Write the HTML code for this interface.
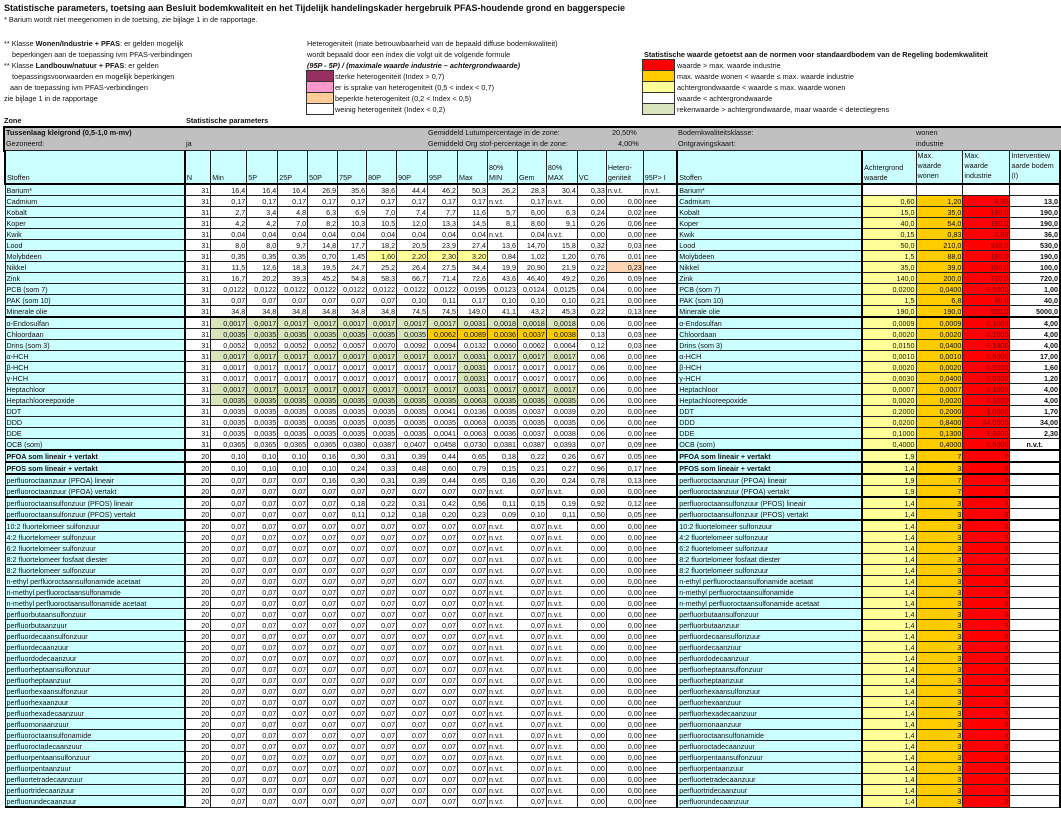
<!DOCTYPE html>
<html><head><meta charset="utf-8">
<style>
body{margin:0;width:1061px;height:814px;background:#fff;position:relative;overflow:hidden;font-family:"Liberation Sans",sans-serif;color:#111}
.a{position:absolute;white-space:nowrap;font-size:7.3px;line-height:9px}
.sw{position:absolute;border:1px solid #333;box-sizing:border-box}
table{position:absolute;left:4px;top:150px;border-collapse:collapse;table-layout:fixed;font-size:7.2px}
td{border:1px solid #222;padding:0 1px;height:10px;line-height:9px;text-align:right;white-space:nowrap;overflow:hidden;background:#fff}
td.c{background:#ccffff;text-align:left}
tr.h td{background:#ccffff;text-align:left;vertical-align:bottom;height:32px;line-height:10px}
tr.h td.tp{vertical-align:top}
td.k{border-left:2px solid #000}
tr.t td{border-top:2px solid #000}
.g{background:#d8e4bc!important}.y{background:#ffff99!important}.o{background:#ffcc00!important}.r{background:#ff0000!important;color:#600}.p{background:#fcd5b4!important}
.b{font-weight:bold}.l{text-align:left!important}.m{text-align:center!important}
td.e{border-right:2px solid #000}
</style></head><body>
<div class="a" style="left:4px;top:3px;font-size:9px;line-height:11px;font-weight:bold">Statistische parameters, toetsing aan Besluit bodemkwaliteit en het Tijdelijk handelingskader hergebruik PFAS-houdende grond en baggerspecie</div>
<div class="a" style="left:4px;top:15px">* Barium wordt niet meegenomen in de toetsing, zie bijlage 1 in de rapportage.</div>
<div class="a" style="left:4px;top:39px">** Klasse <b>Wonen/Industrie + PFAS</b>: er gelden mogelijk</div>
<div class="a" style="left:12px;top:50px">beperkingen aan de toepassing ivm PFAS-verbindingen</div>
<div class="a" style="left:4px;top:61px">** Klasse <b>Landbouw/natuur + PFAS</b>: er gelden</div>
<div class="a" style="left:12px;top:72px">toepassingsvoorwaarden en mogelijk beperkingen</div>
<div class="a" style="left:10px;top:83px">aan de toepassing ivm PFAS-verbindingen</div>
<div class="a" style="left:4px;top:94px">zie bijlage 1 in de rapportage</div>
<div class="a" style="left:307px;top:39px">Heterogeniteit (mate betrouwbaarheid van de bepaald diffuse bodemkwaliteit)</div>
<div class="a" style="left:307px;top:50px">wordt bepaald door een index die volgt uit de volgende formule</div>
<div class="a" style="left:307px;top:61px;font-style:italic;font-weight:bold">(95P - 5P) / (maximale waarde industrie – achtergrondwaarde)</div>
<div class="sw" style="left:306px;top:70px;width:28px;height:12px;background:#963060"></div>
<div class="sw" style="left:306px;top:81px;width:28px;height:12px;background:#ff99cc"></div>
<div class="sw" style="left:306px;top:92px;width:28px;height:12px;background:#ffcc99"></div>
<div class="sw" style="left:306px;top:103px;width:28px;height:12px;background:#fff"></div>
<div class="a" style="left:335px;top:72px">sterke heterogeniteit (Index &gt; 0,7)</div>
<div class="a" style="left:335px;top:83px">er is sprake van heterogeniteit (0,5 &lt; index &lt; 0,7)</div>
<div class="a" style="left:335px;top:94px">beperkte heterogeniteit (0,2 &lt; Index &lt; 0,5)</div>
<div class="a" style="left:335px;top:105px">weinig heterogeniteit (Index &lt; 0,2)</div>
<div class="a" style="left:644px;top:50px;font-weight:bold">Statistische waarde getoetst aan de normen voor standaardbodem van de Regeling bodemkwaliteit</div>
<div class="sw" style="left:642px;top:59px;width:33px;height:12px;background:#ff0000"></div>
<div class="sw" style="left:642px;top:70px;width:33px;height:12px;background:#ffcc00"></div>
<div class="sw" style="left:642px;top:81px;width:33px;height:12px;background:#ffff99"></div>
<div class="sw" style="left:642px;top:92px;width:33px;height:12px;background:#fff"></div>
<div class="sw" style="left:642px;top:103px;width:33px;height:12px;background:#d8e4bc"></div>
<div class="a" style="left:677px;top:61px">waarde &gt; max. waarde industrie</div>
<div class="a" style="left:677px;top:72px">max. waarde wonen &lt; waarde ≤ max. waarde industrie</div>
<div class="a" style="left:677px;top:83px">achtergrondwaarde &lt; waarde ≤ max. waarde wonen</div>
<div class="a" style="left:677px;top:94px">waarde &lt; achtergrondwaarde</div>
<div class="a" style="left:677px;top:105px">rekenwaarde &gt; achtergrondwaarde, maar waarde &lt; detectiegrens</div>
<div class="a" style="left:4px;top:116px;font-weight:bold">Zone</div>
<div class="a" style="left:186px;top:116px;font-weight:bold">Statistische parameters</div>
<div style="position:absolute;left:3px;top:126px;width:1056px;height:24px;background:#c0c0c0;border:1px solid #000;border-width:2px 2px 0 2px"></div>
<div class="a" style="left:6px;top:128px;font-weight:bold">Tussenlaag kleigrond (0,5-1,0 m-mv)</div>
<div class="a" style="left:6px;top:139px">Gezoneerd:</div>
<div class="a" style="left:186px;top:139px">ja</div>
<div class="a" style="left:428px;top:128px">Gemiddeld Lutumpercentage in de zone:</div>
<div class="a" style="left:428px;top:139px">Gemiddeld Org stof-percentage in de zone:</div>
<div class="a" style="left:612px;top:128px">20,50%</div>
<div class="a" style="left:618px;top:139px">4,00%</div>
<div class="a" style="left:678px;top:128px">Bodemkwaliteitsklasse:</div>
<div class="a" style="left:678px;top:139px">Ontgravingskaart:</div>
<div class="a" style="left:916px;top:128px">wonen</div>
<div class="a" style="left:916px;top:139px">industrie</div>

<table>
<colgroup><col style="width:180px"><col style="width:26px"><col style="width:36px"><col style="width:31px"><col style="width:30px"><col style="width:30px"><col style="width:29px"><col style="width:30px"><col style="width:31px"><col style="width:30px"><col style="width:30px"><col style="width:30px"><col style="width:29px"><col style="width:31px"><col style="width:29px"><col style="width:37px"><col style="width:34px"><col style="width:185px"><col style="width:54px"><col style="width:47px"><col style="width:47px"><col style="width:50px"></colgroup>
<tr class="h"><td style="border-left:2px solid #000">Stoffen</td><td class="k">N</td><td>Min</td><td>5P</td><td>25P</td><td>50P</td><td>75P</td><td>80P</td><td>90P</td><td>95P</td><td>Max</td><td>80%<br>MIN</td><td>Gem</td><td>80%<br>MAX</td><td>VC</td><td>Hetero-<br>geniteit</td><td>95P&gt; I</td><td class="k">Stoffen</td><td class="k">Achtergrond<br>waarde</td><td class="tp">Max.<br>waarde<br>wonen</td><td class="tp">Max.<br>waarde<br>industrie</td><td class="tp e">Interventiew<br>aarde bodem<br>(I)</td></tr>
<tr class="t"><td class="c">Barium*</td><td class="k">31</td><td>16,4</td><td>16,4</td><td>16,4</td><td>26,9</td><td>35,6</td><td>38,6</td><td>44,4</td><td>46,2</td><td>50,3</td><td>26,2</td><td>28,3</td><td>30,4</td><td>0,33</td><td class="l">n.v.t.</td><td class="l">n.v.t.</td><td class="c k">Barium*</td><td class="k"></td><td></td><td></td><td class="e"></td></tr>
<tr><td class="c">Cadmium</td><td class="k">31</td><td>0,17</td><td>0,17</td><td>0,17</td><td>0,17</td><td>0,17</td><td>0,17</td><td>0,17</td><td>0,17</td><td>0,17</td><td class="l">n.v.t.</td><td>0,17</td><td class="l">n.v.t.</td><td>0,00</td><td>0,00</td><td class="l">nee</td><td class="c k">Cadmium</td><td class="k y">0,60</td><td class="o">1,20</td><td class="r">4,30</td><td class="b e">13,0</td></tr>
<tr><td class="c">Kobalt</td><td class="k">31</td><td>2,7</td><td>3,4</td><td>4,8</td><td>6,3</td><td>6,9</td><td>7,0</td><td>7,4</td><td>7,7</td><td>11,6</td><td>5,7</td><td>6,00</td><td>6,3</td><td>0,24</td><td>0,02</td><td class="l">nee</td><td class="c k">Kobalt</td><td class="k y">15,0</td><td class="o">35,0</td><td class="r">190,0</td><td class="b e">190,0</td></tr>
<tr><td class="c">Koper</td><td class="k">31</td><td>4,2</td><td>4,2</td><td>7,0</td><td>8,2</td><td>10,3</td><td>10,5</td><td>12,0</td><td>13,3</td><td>14,5</td><td>8,1</td><td>8,60</td><td>9,1</td><td>0,26</td><td>0,06</td><td class="l">nee</td><td class="c k">Koper</td><td class="k y">40,0</td><td class="o">54,0</td><td class="r">190,0</td><td class="b e">190,0</td></tr>
<tr><td class="c">Kwik</td><td class="k">31</td><td>0,04</td><td>0,04</td><td>0,04</td><td>0,04</td><td>0,04</td><td>0,04</td><td>0,04</td><td>0,04</td><td>0,04</td><td class="l">n.v.t.</td><td>0,04</td><td class="l">n.v.t.</td><td>0,00</td><td>0,00</td><td class="l">nee</td><td class="c k">Kwik</td><td class="k y">0,15</td><td class="o">0,83</td><td class="r">4,80</td><td class="b e">36,0</td></tr>
<tr><td class="c">Lood</td><td class="k">31</td><td>8,0</td><td>8,0</td><td>9,7</td><td>14,8</td><td>17,7</td><td>18,2</td><td>20,5</td><td>23,9</td><td>27,4</td><td>13,6</td><td>14,70</td><td>15,8</td><td>0,32</td><td>0,03</td><td class="l">nee</td><td class="c k">Lood</td><td class="k y">50,0</td><td class="o">210,0</td><td class="r">530,0</td><td class="b e">530,0</td></tr>
<tr><td class="c">Molybdeen</td><td class="k">31</td><td>0,35</td><td>0,35</td><td>0,35</td><td>0,70</td><td>1,45</td><td class="y">1,60</td><td class="y">2,20</td><td class="y">2,30</td><td class="y">3,20</td><td>0,84</td><td>1,02</td><td>1,20</td><td>0,76</td><td>0,01</td><td class="l">nee</td><td class="c k">Molybdeen</td><td class="k y">1,5</td><td class="o">88,0</td><td class="r">190,0</td><td class="b e">190,0</td></tr>
<tr><td class="c">Nikkel</td><td class="k">31</td><td>11,5</td><td>12,6</td><td>18,3</td><td>19,5</td><td>24,7</td><td>25,2</td><td>26,4</td><td>27,5</td><td>34,4</td><td>19,9</td><td>20,90</td><td>21,9</td><td>0,22</td><td class="p">0,23</td><td class="l">nee</td><td class="c k">Nikkel</td><td class="k y">35,0</td><td class="o">39,0</td><td class="r">100,0</td><td class="b e">100,0</td></tr>
<tr><td class="c">Zink</td><td class="k">31</td><td>16,7</td><td>20,2</td><td>39,3</td><td>45,2</td><td>54,8</td><td>58,3</td><td>66,7</td><td>71,4</td><td>72,6</td><td>43,6</td><td>46,40</td><td>49,2</td><td>0,26</td><td>0,09</td><td class="l">nee</td><td class="c k">Zink</td><td class="k y">140,0</td><td class="o">200,0</td><td class="r">720,0</td><td class="b e">720,0</td></tr>
<tr><td class="c">PCB (som 7)</td><td class="k">31</td><td>0,0122</td><td>0,0122</td><td>0,0122</td><td>0,0122</td><td>0,0122</td><td>0,0122</td><td>0,0122</td><td>0,0122</td><td>0,0195</td><td>0,0123</td><td>0,0124</td><td>0,0125</td><td>0,04</td><td>0,00</td><td class="l">nee</td><td class="c k">PCB (som 7)</td><td class="k y">0,0200</td><td class="o">0,0400</td><td class="r">0,5000</td><td class="b e">1,00</td></tr>
<tr><td class="c">PAK (som 10)</td><td class="k">31</td><td>0,07</td><td>0,07</td><td>0,07</td><td>0,07</td><td>0,07</td><td>0,07</td><td>0,10</td><td>0,11</td><td>0,17</td><td>0,10</td><td>0,10</td><td>0,10</td><td>0,21</td><td>0,00</td><td class="l">nee</td><td class="c k">PAK (som 10)</td><td class="k y">1,5</td><td class="o">6,8</td><td class="r">40,0</td><td class="b e">40,0</td></tr>
<tr><td class="c">Minerale olie</td><td class="k">31</td><td>34,8</td><td>34,8</td><td>34,8</td><td>34,8</td><td>34,8</td><td>34,8</td><td>74,5</td><td>74,5</td><td>149,0</td><td>41,1</td><td>43,2</td><td>45,3</td><td>0,22</td><td>0,13</td><td class="l">nee</td><td class="c k">Minerale olie</td><td class="k y">190,0</td><td class="o">190,0</td><td class="r">500,0</td><td class="b e">5000,0</td></tr>
<tr class="t"><td class="c">α-Endosulfan</td><td class="k">31</td><td class="g">0,0017</td><td class="g">0,0017</td><td class="g">0,0017</td><td class="g">0,0017</td><td class="g">0,0017</td><td class="g">0,0017</td><td class="g">0,0017</td><td class="g">0,0017</td><td class="g">0,0031</td><td class="g">0,0018</td><td class="g">0,0018</td><td class="g">0,0018</td><td>0,06</td><td>0,00</td><td class="l">nee</td><td class="c k">α-Endosulfan</td><td class="k y">0,0009</td><td class="o">0,0009</td><td class="r">0,1000</td><td class="b e">4,00</td></tr>
<tr><td class="c">Chloordaan</td><td class="k">31</td><td class="g">0,0035</td><td class="g">0,0035</td><td class="g">0,0035</td><td class="g">0,0035</td><td class="g">0,0035</td><td class="g">0,0035</td><td class="g">0,0035</td><td class="o">0,0062</td><td class="o">0,0089</td><td class="o">0,0036</td><td class="o">0,0037</td><td class="o">0,0038</td><td>0,13</td><td>0,03</td><td class="l">nee</td><td class="c k">Chloordaan</td><td class="k y">0,0020</td><td class="o">0,0020</td><td class="r">0,1000</td><td class="b e">4,00</td></tr>
<tr><td class="c">Drins (som 3)</td><td class="k">31</td><td>0,0052</td><td>0,0052</td><td>0,0052</td><td>0,0052</td><td>0,0057</td><td>0,0070</td><td>0,0092</td><td>0,0094</td><td>0,0132</td><td>0,0060</td><td>0,0062</td><td>0,0064</td><td>0,12</td><td>0,03</td><td class="l">nee</td><td class="c k">Drins (som 3)</td><td class="k y">0,0150</td><td class="o">0,0400</td><td class="r">0,1400</td><td class="b e">4,00</td></tr>
<tr><td class="c">α-HCH</td><td class="k">31</td><td class="g">0,0017</td><td class="g">0,0017</td><td class="g">0,0017</td><td class="g">0,0017</td><td class="g">0,0017</td><td class="g">0,0017</td><td class="g">0,0017</td><td class="g">0,0017</td><td class="g">0,0031</td><td class="g">0,0017</td><td class="g">0,0017</td><td class="g">0,0017</td><td>0,06</td><td>0,00</td><td class="l">nee</td><td class="c k">α-HCH</td><td class="k y">0,0010</td><td class="o">0,0010</td><td class="r">0,5000</td><td class="b e">17,00</td></tr>
<tr><td class="c">β-HCH</td><td class="k">31</td><td>0,0017</td><td>0,0017</td><td>0,0017</td><td>0,0017</td><td>0,0017</td><td>0,0017</td><td>0,0017</td><td>0,0017</td><td class="g">0,0031</td><td>0,0017</td><td>0,0017</td><td>0,0017</td><td>0,06</td><td>0,00</td><td class="l">nee</td><td class="c k">β-HCH</td><td class="k y">0,0020</td><td class="o">0,0020</td><td class="r">0,5000</td><td class="b e">1,60</td></tr>
<tr><td class="c">γ-HCH</td><td class="k">31</td><td>0,0017</td><td>0,0017</td><td>0,0017</td><td>0,0017</td><td>0,0017</td><td>0,0017</td><td>0,0017</td><td>0,0017</td><td class="g">0,0031</td><td>0,0017</td><td>0,0017</td><td>0,0017</td><td>0,06</td><td>0,00</td><td class="l">nee</td><td class="c k">γ-HCH</td><td class="k y">0,0030</td><td class="o">0,0400</td><td class="r">0,5000</td><td class="b e">1,20</td></tr>
<tr><td class="c">Heptachloor</td><td class="k">31</td><td class="g">0,0017</td><td class="g">0,0017</td><td class="g">0,0017</td><td class="g">0,0017</td><td class="g">0,0017</td><td class="g">0,0017</td><td class="g">0,0017</td><td class="g">0,0017</td><td class="g">0,0031</td><td class="g">0,0017</td><td class="g">0,0017</td><td class="g">0,0017</td><td>0,06</td><td>0,00</td><td class="l">nee</td><td class="c k">Heptachloor</td><td class="k y">0,0007</td><td class="o">0,0007</td><td class="r">0,1000</td><td class="b e">4,00</td></tr>
<tr><td class="c">Heptachlooreepoxide</td><td class="k">31</td><td class="g">0,0035</td><td class="g">0,0035</td><td class="g">0,0035</td><td class="g">0,0035</td><td class="g">0,0035</td><td class="g">0,0035</td><td class="g">0,0035</td><td class="g">0,0035</td><td class="g">0,0063</td><td class="g">0,0035</td><td class="g">0,0035</td><td class="g">0,0035</td><td>0,06</td><td>0,00</td><td class="l">nee</td><td class="c k">Heptachlooreepoxide</td><td class="k y">0,0020</td><td class="o">0,0020</td><td class="r">0,1000</td><td class="b e">4,00</td></tr>
<tr><td class="c">DDT</td><td class="k">31</td><td>0,0035</td><td>0,0035</td><td>0,0035</td><td>0,0035</td><td>0,0035</td><td>0,0035</td><td>0,0035</td><td>0,0041</td><td>0,0136</td><td>0,0035</td><td>0,0037</td><td>0,0039</td><td>0,20</td><td>0,00</td><td class="l">nee</td><td class="c k">DDT</td><td class="k y">0,2000</td><td class="o">0,2000</td><td class="r">1,0000</td><td class="b e">1,70</td></tr>
<tr><td class="c">DDD</td><td class="k">31</td><td>0,0035</td><td>0,0035</td><td>0,0035</td><td>0,0035</td><td>0,0035</td><td>0,0035</td><td>0,0035</td><td>0,0035</td><td>0,0063</td><td>0,0035</td><td>0,0035</td><td>0,0035</td><td>0,06</td><td>0,00</td><td class="l">nee</td><td class="c k">DDD</td><td class="k y">0,0200</td><td class="o">0,8400</td><td class="r">34,0000</td><td class="b e">34,00</td></tr>
<tr><td class="c">DDE</td><td class="k">31</td><td>0,0035</td><td>0,0035</td><td>0,0035</td><td>0,0035</td><td>0,0035</td><td>0,0035</td><td>0,0035</td><td>0,0041</td><td>0,0063</td><td>0,0036</td><td>0,0037</td><td>0,0038</td><td>0,06</td><td>0,00</td><td class="l">nee</td><td class="c k">DDE</td><td class="k y">0,1000</td><td class="o">0,1300</td><td class="r">1,3000</td><td class="b e">2,30</td></tr>
<tr><td class="c">OCB (som)</td><td class="k">31</td><td>0,0365</td><td>0,0365</td><td>0,0365</td><td>0,0365</td><td>0,0380</td><td>0,0387</td><td>0,0407</td><td>0,0458</td><td>0,0730</td><td>0,0381</td><td>0,0387</td><td>0,0393</td><td>0,07</td><td>0,09</td><td class="l">nee</td><td class="c k">OCB (som)</td><td class="k y">0,4000</td><td class="o">0,4000</td><td class="r">0,5000</td><td class="b m e">n.v.t.</td></tr>
<tr class="t"><td class="c b">PFOA som lineair + vertakt</td><td class="k">20</td><td>0,10</td><td>0,10</td><td>0,10</td><td>0,16</td><td>0,30</td><td>0,31</td><td>0,39</td><td>0,44</td><td>0,65</td><td>0,18</td><td>0,22</td><td>0,26</td><td>0,67</td><td>0,05</td><td class="l">nee</td><td class="c k b">PFOA som lineair + vertakt</td><td class="k y">1,9</td><td class="o">7</td><td class="r">7</td><td class="e"></td></tr>
<tr class="t"><td class="c b">PFOS som lineair + vertakt</td><td class="k">20</td><td>0,10</td><td>0,10</td><td>0,10</td><td>0,10</td><td>0,24</td><td>0,33</td><td>0,48</td><td>0,60</td><td>0,79</td><td>0,15</td><td>0,21</td><td>0,27</td><td>0,96</td><td>0,17</td><td class="l">nee</td><td class="c k b">PFOS som lineair + vertakt</td><td class="k y">1,4</td><td class="o">3</td><td class="r">3</td><td class="e"></td></tr>
<tr class="t"><td class="c">perfluoroctaanzuur (PFOA) lineair</td><td class="k">20</td><td>0,07</td><td>0,07</td><td>0,07</td><td>0,16</td><td>0,30</td><td>0,31</td><td>0,39</td><td>0,44</td><td>0,65</td><td>0,16</td><td>0,20</td><td>0,24</td><td>0,78</td><td>0,13</td><td class="l">nee</td><td class="c k">perfluoroctaanzuur (PFOA) lineair</td><td class="k y">1,9</td><td class="o">7</td><td class="r">7</td><td class="e"></td></tr>
<tr><td class="c">perfluoroctaanzuur (PFOA) vertakt</td><td class="k">20</td><td>0,07</td><td>0,07</td><td>0,07</td><td>0,07</td><td>0,07</td><td>0,07</td><td>0,07</td><td>0,07</td><td>0,07</td><td class="l">n.v.t.</td><td>0,07</td><td class="l">n.v.t.</td><td>0,00</td><td>0,00</td><td class="l">nee</td><td class="c k">perfluoroctaanzuur (PFOA) vertakt</td><td class="k y">1,9</td><td class="o">7</td><td class="r">7</td><td class="e"></td></tr>
<tr class="t"><td class="c">perfluoroctaansulfonzuur (PFOS) lineair</td><td class="k">20</td><td>0,07</td><td>0,07</td><td>0,07</td><td>0,07</td><td>0,18</td><td>0,22</td><td>0,31</td><td>0,42</td><td>0,56</td><td>0,11</td><td>0,15</td><td>0,19</td><td>0,92</td><td>0,12</td><td class="l">nee</td><td class="c k">perfluoroctaansulfonzuur (PFOS) lineair</td><td class="k y">1,4</td><td class="o">3</td><td class="r">3</td><td class="e"></td></tr>
<tr><td class="c">perfluoroctaansulfonzuur (PFOS) vertakt</td><td class="k">20</td><td>0,07</td><td>0,07</td><td>0,07</td><td>0,07</td><td>0,11</td><td>0,12</td><td>0,18</td><td>0,20</td><td>0,23</td><td>0,09</td><td>0,10</td><td>0,11</td><td>0,50</td><td>0,05</td><td class="l">nee</td><td class="c k">perfluoroctaansulfonzuur (PFOS) vertakt</td><td class="k y">1,4</td><td class="o">3</td><td class="r">3</td><td class="e"></td></tr>
<tr class="t"><td class="c">10:2 fluortelomeer sulfonzuur</td><td class="k">20</td><td>0,07</td><td>0,07</td><td>0,07</td><td>0,07</td><td>0,07</td><td>0,07</td><td>0,07</td><td>0,07</td><td>0,07</td><td class="l">n.v.t.</td><td>0,07</td><td class="l">n.v.t.</td><td>0,00</td><td>0,00</td><td class="l">nee</td><td class="c k">10:2 fluortelomeer sulfonzuur</td><td class="k y">1,4</td><td class="o">3</td><td class="r">3</td><td class="e"></td></tr>
<tr><td class="c">4:2 fluortelomeer sulfonzuur</td><td class="k">20</td><td>0,07</td><td>0,07</td><td>0,07</td><td>0,07</td><td>0,07</td><td>0,07</td><td>0,07</td><td>0,07</td><td>0,07</td><td class="l">n.v.t.</td><td>0,07</td><td class="l">n.v.t.</td><td>0,00</td><td>0,00</td><td class="l">nee</td><td class="c k">4:2 fluortelomeer sulfonzuur</td><td class="k y">1,4</td><td class="o">3</td><td class="r">3</td><td class="e"></td></tr>
<tr><td class="c">6:2 fluortelomeer sulfonzuur</td><td class="k">20</td><td>0,07</td><td>0,07</td><td>0,07</td><td>0,07</td><td>0,07</td><td>0,07</td><td>0,07</td><td>0,07</td><td>0,07</td><td class="l">n.v.t.</td><td>0,07</td><td class="l">n.v.t.</td><td>0,00</td><td>0,00</td><td class="l">nee</td><td class="c k">6:2 fluortelomeer sulfonzuur</td><td class="k y">1,4</td><td class="o">3</td><td class="r">3</td><td class="e"></td></tr>
<tr><td class="c">8:2 fluortelomeer fosfaat diester</td><td class="k">20</td><td>0,07</td><td>0,07</td><td>0,07</td><td>0,07</td><td>0,07</td><td>0,07</td><td>0,07</td><td>0,07</td><td>0,07</td><td class="l">n.v.t.</td><td>0,07</td><td class="l">n.v.t.</td><td>0,00</td><td>0,00</td><td class="l">nee</td><td class="c k">8:2 fluortelomeer fosfaat diester</td><td class="k y">1,4</td><td class="o">3</td><td class="r">3</td><td class="e"></td></tr>
<tr><td class="c">8:2 fluortelomeer sulfonzuur</td><td class="k">20</td><td>0,07</td><td>0,07</td><td>0,07</td><td>0,07</td><td>0,07</td><td>0,07</td><td>0,07</td><td>0,07</td><td>0,07</td><td class="l">n.v.t.</td><td>0,07</td><td class="l">n.v.t.</td><td>0,00</td><td>0,00</td><td class="l">nee</td><td class="c k">8:2 fluortelomeer sulfonzuur</td><td class="k y">1,4</td><td class="o">3</td><td class="r">3</td><td class="e"></td></tr>
<tr><td class="c">n-ethyl perfluoroctaansulfonamide acetaat</td><td class="k">20</td><td>0,07</td><td>0,07</td><td>0,07</td><td>0,07</td><td>0,07</td><td>0,07</td><td>0,07</td><td>0,07</td><td>0,07</td><td class="l">n.v.t.</td><td>0,07</td><td class="l">n.v.t.</td><td>0,00</td><td>0,00</td><td class="l">nee</td><td class="c k">n-ethyl perfluoroctaansulfonamide acetaat</td><td class="k y">1,4</td><td class="o">3</td><td class="r">3</td><td class="e"></td></tr>
<tr><td class="c">n-methyl perfluoroctaansulfonamide</td><td class="k">20</td><td>0,07</td><td>0,07</td><td>0,07</td><td>0,07</td><td>0,07</td><td>0,07</td><td>0,07</td><td>0,07</td><td>0,07</td><td class="l">n.v.t.</td><td>0,07</td><td class="l">n.v.t.</td><td>0,00</td><td>0,00</td><td class="l">nee</td><td class="c k">n-methyl perfluoroctaansulfonamide</td><td class="k y">1,4</td><td class="o">3</td><td class="r">3</td><td class="e"></td></tr>
<tr><td class="c">n-methyl perfluoroctaansulfonamide acetaat</td><td class="k">20</td><td>0,07</td><td>0,07</td><td>0,07</td><td>0,07</td><td>0,07</td><td>0,07</td><td>0,07</td><td>0,07</td><td>0,07</td><td class="l">n.v.t.</td><td>0,07</td><td class="l">n.v.t.</td><td>0,00</td><td>0,00</td><td class="l">nee</td><td class="c k">n-methyl perfluoroctaansulfonamide acetaat</td><td class="k y">1,4</td><td class="o">3</td><td class="r">3</td><td class="e"></td></tr>
<tr><td class="c">perfluorbutaansulfonzuur</td><td class="k">20</td><td>0,07</td><td>0,07</td><td>0,07</td><td>0,07</td><td>0,07</td><td>0,07</td><td>0,07</td><td>0,07</td><td>0,07</td><td class="l">n.v.t.</td><td>0,07</td><td class="l">n.v.t.</td><td>0,00</td><td>0,00</td><td class="l">nee</td><td class="c k">perfluorbutaansulfonzuur</td><td class="k y">1,4</td><td class="o">3</td><td class="r">3</td><td class="e"></td></tr>
<tr><td class="c">perfluorbutaanzuur</td><td class="k">20</td><td>0,07</td><td>0,07</td><td>0,07</td><td>0,07</td><td>0,07</td><td>0,07</td><td>0,07</td><td>0,07</td><td>0,07</td><td class="l">n.v.t.</td><td>0,07</td><td class="l">n.v.t.</td><td>0,00</td><td>0,00</td><td class="l">nee</td><td class="c k">perfluorbutaanzuur</td><td class="k y">1,4</td><td class="o">3</td><td class="r">3</td><td class="e"></td></tr>
<tr><td class="c">perfluordecaansulfonzuur</td><td class="k">20</td><td>0,07</td><td>0,07</td><td>0,07</td><td>0,07</td><td>0,07</td><td>0,07</td><td>0,07</td><td>0,07</td><td>0,07</td><td class="l">n.v.t.</td><td>0,07</td><td class="l">n.v.t.</td><td>0,00</td><td>0,00</td><td class="l">nee</td><td class="c k">perfluordecaansulfonzuur</td><td class="k y">1,4</td><td class="o">3</td><td class="r">3</td><td class="e"></td></tr>
<tr><td class="c">perfluordecaanzuur</td><td class="k">20</td><td>0,07</td><td>0,07</td><td>0,07</td><td>0,07</td><td>0,07</td><td>0,07</td><td>0,07</td><td>0,07</td><td>0,07</td><td class="l">n.v.t.</td><td>0,07</td><td class="l">n.v.t.</td><td>0,00</td><td>0,00</td><td class="l">nee</td><td class="c k">perfluordecaanzuur</td><td class="k y">1,4</td><td class="o">3</td><td class="r">3</td><td class="e"></td></tr>
<tr><td class="c">perfluordodecaanzuur</td><td class="k">20</td><td>0,07</td><td>0,07</td><td>0,07</td><td>0,07</td><td>0,07</td><td>0,07</td><td>0,07</td><td>0,07</td><td>0,07</td><td class="l">n.v.t.</td><td>0,07</td><td class="l">n.v.t.</td><td>0,00</td><td>0,00</td><td class="l">nee</td><td class="c k">perfluordodecaanzuur</td><td class="k y">1,4</td><td class="o">3</td><td class="r">3</td><td class="e"></td></tr>
<tr><td class="c">perfluorheptaansulfonzuur</td><td class="k">20</td><td>0,07</td><td>0,07</td><td>0,07</td><td>0,07</td><td>0,07</td><td>0,07</td><td>0,07</td><td>0,07</td><td>0,07</td><td class="l">n.v.t.</td><td>0,07</td><td class="l">n.v.t.</td><td>0,00</td><td>0,00</td><td class="l">nee</td><td class="c k">perfluorheptaansulfonzuur</td><td class="k y">1,4</td><td class="o">3</td><td class="r">3</td><td class="e"></td></tr>
<tr><td class="c">perfluorheptaanzuur</td><td class="k">20</td><td>0,07</td><td>0,07</td><td>0,07</td><td>0,07</td><td>0,07</td><td>0,07</td><td>0,07</td><td>0,07</td><td>0,07</td><td class="l">n.v.t.</td><td>0,07</td><td class="l">n.v.t.</td><td>0,00</td><td>0,00</td><td class="l">nee</td><td class="c k">perfluorheptaanzuur</td><td class="k y">1,4</td><td class="o">3</td><td class="r">3</td><td class="e"></td></tr>
<tr><td class="c">perfluorhexaansulfonzuur</td><td class="k">20</td><td>0,07</td><td>0,07</td><td>0,07</td><td>0,07</td><td>0,07</td><td>0,07</td><td>0,07</td><td>0,07</td><td>0,07</td><td class="l">n.v.t.</td><td>0,07</td><td class="l">n.v.t.</td><td>0,00</td><td>0,00</td><td class="l">nee</td><td class="c k">perfluorhexaansulfonzuur</td><td class="k y">1,4</td><td class="o">3</td><td class="r">3</td><td class="e"></td></tr>
<tr><td class="c">perfluorhexaanzuur</td><td class="k">20</td><td>0,07</td><td>0,07</td><td>0,07</td><td>0,07</td><td>0,07</td><td>0,07</td><td>0,07</td><td>0,07</td><td>0,07</td><td class="l">n.v.t.</td><td>0,07</td><td class="l">n.v.t.</td><td>0,00</td><td>0,00</td><td class="l">nee</td><td class="c k">perfluorhexaanzuur</td><td class="k y">1,4</td><td class="o">3</td><td class="r">3</td><td class="e"></td></tr>
<tr><td class="c">perfluorhexadecaanzuur</td><td class="k">20</td><td>0,07</td><td>0,07</td><td>0,07</td><td>0,07</td><td>0,07</td><td>0,07</td><td>0,07</td><td>0,07</td><td>0,07</td><td class="l">n.v.t.</td><td>0,07</td><td class="l">n.v.t.</td><td>0,00</td><td>0,00</td><td class="l">nee</td><td class="c k">perfluorhexadecaanzuur</td><td class="k y">1,4</td><td class="o">3</td><td class="r">3</td><td class="e"></td></tr>
<tr><td class="c">perfluornonaanzuur</td><td class="k">20</td><td>0,07</td><td>0,07</td><td>0,07</td><td>0,07</td><td>0,07</td><td>0,07</td><td>0,07</td><td>0,07</td><td>0,07</td><td class="l">n.v.t.</td><td>0,07</td><td class="l">n.v.t.</td><td>0,00</td><td>0,00</td><td class="l">nee</td><td class="c k">perfluornonaanzuur</td><td class="k y">1,4</td><td class="o">3</td><td class="r">3</td><td class="e"></td></tr>
<tr><td class="c">perfluoroctaansulfonamide</td><td class="k">20</td><td>0,07</td><td>0,07</td><td>0,07</td><td>0,07</td><td>0,07</td><td>0,07</td><td>0,07</td><td>0,07</td><td>0,07</td><td class="l">n.v.t.</td><td>0,07</td><td class="l">n.v.t.</td><td>0,00</td><td>0,00</td><td class="l">nee</td><td class="c k">perfluoroctaansulfonamide</td><td class="k y">1,4</td><td class="o">3</td><td class="r">3</td><td class="e"></td></tr>
<tr><td class="c">perfluoroctadecaanzuur</td><td class="k">20</td><td>0,07</td><td>0,07</td><td>0,07</td><td>0,07</td><td>0,07</td><td>0,07</td><td>0,07</td><td>0,07</td><td>0,07</td><td class="l">n.v.t.</td><td>0,07</td><td class="l">n.v.t.</td><td>0,00</td><td>0,00</td><td class="l">nee</td><td class="c k">perfluoroctadecaanzuur</td><td class="k y">1,4</td><td class="o">3</td><td class="r">3</td><td class="e"></td></tr>
<tr><td class="c">perfluorpentaansulfonzuur</td><td class="k">20</td><td>0,07</td><td>0,07</td><td>0,07</td><td>0,07</td><td>0,07</td><td>0,07</td><td>0,07</td><td>0,07</td><td>0,07</td><td class="l">n.v.t.</td><td>0,07</td><td class="l">n.v.t.</td><td>0,00</td><td>0,00</td><td class="l">nee</td><td class="c k">perfluorpentaansulfonzuur</td><td class="k y">1,4</td><td class="o">3</td><td class="r">3</td><td class="e"></td></tr>
<tr><td class="c">perfluorpentaanzuur</td><td class="k">20</td><td>0,07</td><td>0,07</td><td>0,07</td><td>0,07</td><td>0,07</td><td>0,07</td><td>0,07</td><td>0,07</td><td>0,07</td><td class="l">n.v.t.</td><td>0,07</td><td class="l">n.v.t.</td><td>0,00</td><td>0,00</td><td class="l">nee</td><td class="c k">perfluorpentaanzuur</td><td class="k y">1,4</td><td class="o">3</td><td class="r">3</td><td class="e"></td></tr>
<tr><td class="c">perfluortetradecaanzuur</td><td class="k">20</td><td>0,07</td><td>0,07</td><td>0,07</td><td>0,07</td><td>0,07</td><td>0,07</td><td>0,07</td><td>0,07</td><td>0,07</td><td class="l">n.v.t.</td><td>0,07</td><td class="l">n.v.t.</td><td>0,00</td><td>0,00</td><td class="l">nee</td><td class="c k">perfluortetradecaanzuur</td><td class="k y">1,4</td><td class="o">3</td><td class="r">3</td><td class="e"></td></tr>
<tr><td class="c">perfluortridecaanzuur</td><td class="k">20</td><td>0,07</td><td>0,07</td><td>0,07</td><td>0,07</td><td>0,07</td><td>0,07</td><td>0,07</td><td>0,07</td><td>0,07</td><td class="l">n.v.t.</td><td>0,07</td><td class="l">n.v.t.</td><td>0,00</td><td>0,00</td><td class="l">nee</td><td class="c k">perfluortridecaanzuur</td><td class="k y">1,4</td><td class="o">3</td><td class="r">3</td><td class="e"></td></tr>
<tr><td class="c" style="border-bottom:2px solid #000">perfluorundecaanzuur</td><td class="k">20</td><td>0,07</td><td>0,07</td><td>0,07</td><td>0,07</td><td>0,07</td><td>0,07</td><td>0,07</td><td>0,07</td><td>0,07</td><td class="l">n.v.t.</td><td>0,07</td><td class="l">n.v.t.</td><td>0,00</td><td>0,00</td><td class="l">nee</td><td class="c k">perfluorundecaanzuur</td><td class="k y">1,4</td><td class="o">3</td><td class="r">3</td><td class="e"></td></tr>
</table>
</body></html>
